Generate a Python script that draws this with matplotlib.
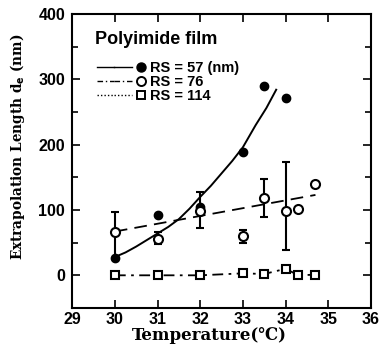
import matplotlib
matplotlib.use('Agg')
import matplotlib.pyplot as plt
from matplotlib.lines import Line2D
from matplotlib.legend_handler import HandlerTuple
import numpy as np

# RS = 57 (filled circles) and the fitted curve
t57 = [30, 31, 32, 33, 33.5, 34]
d57 = [27, 92, 104, 189, 290, 272]
curve_t = [30, 30.25, 30.5, 30.75, 31, 31.25, 31.5, 31.75, 32, 32.25, 32.5,
           32.75, 33, 33.3, 33.55, 33.78]
curve_d = [28, 35, 44, 54, 64, 74, 86, 102, 120, 137, 156, 175, 196, 230,
           256, 284]

# RS = 76 (open circles, error bars) and its dashed line
t76 = [30, 31, 32, 33, 33.5, 34, 34.3, 34.7]
d76 = [66, 56, 98, 60, 119, 99, 101, 139]
lo76 = [39, 8, 26, 10, 30, 61, 0, 0]
hi76 = [31, 10, 29, 10, 28, 74, 0, 0]
line76_t = [30, 34.7]
line76_d = [67, 123]

# RS = 114 (open squares)
t114 = [30, 31, 32, 33, 33.5, 34, 34.3, 34.7]
d114 = [0, 0, 0, 3, 2, 10, 0, 1]

plt.rcParams['font.family'] = ['DejaVu Serif', 'DejaVu Sans']

fig = plt.figure(figsize=(3.86, 3.48), dpi=100)
ax = fig.add_axes([0.187, 0.115, 0.774, 0.845])

ax.plot(curve_t, curve_d, '-', color='k', lw=1.4)
ax.plot(line76_t, line76_d, color='k', lw=1.3, dashes=(7, 4))
ax.plot(t114, d114, color='k', lw=1.3, dashes=(6, 3, 1.5, 3))

ax.errorbar(t76, d76, yerr=[lo76, hi76], fmt='none', ecolor='k',
            elinewidth=1.5, capsize=3, capthick=1.5)
ax.plot(t57, d57, 'o', color='k', ms=6)
ax.plot(t76, d76, 'o', mfc='white', mec='k', mew=1.5, ms=6.5)
ax.plot(t114, d114, 's', mfc='white', mec='k', mew=1.5, ms=5.5)

ax.set_xlim(29, 36)
ax.set_ylim(-50, 400)
ax.set_xticks(np.arange(29, 37, 1))
ax.set_yticks([0, 100, 200, 300, 400])
ax.set_yticks(np.arange(-50, 400, 100), minor=True)
ax.tick_params(which='both', direction='in', top=True, right=True,
               width=1.2, labelsize=11.5)
ax.tick_params(which='major', length=6)
ax.tick_params(axis='y', which='major', pad=5)
ax.tick_params(axis='x', which='major', pad=3)
ax.tick_params(which='minor', length=4)
for lab in ax.get_xticklabels() + ax.get_yticklabels():
    lab.set_fontweight('bold')
    lab.set_family('Liberation Sans')
for s in ax.spines.values():
    s.set_linewidth(1.5)

ax.set_xlabel('Temperature(\u2103)', fontsize=12, fontweight='bold')
ax.xaxis.set_label_coords(0.46, -0.065)
ax.set_ylabel('Extrapolation Length d$_\\mathbf{e}$ (nm)', fontsize=9.8,
              fontweight='bold')
ax.yaxis.set_label_coords(-0.15, 0.548)

ax.text(0.077, 0.912, 'Polyimide film', transform=ax.transAxes,
        family='Liberation Sans', weight='bold', fontsize=13, va='center')

line57 = Line2D([], [], color='k', lw=1)
line76 = Line2D([], [], color='k', lw=1, dashes=(4, 2, 1, 2))
line114 = Line2D([], [], color='k', lw=1, dashes=(1, 1.5))
h57 = (line57, line57, Line2D([], [], ls='', marker='o', color='k', ms=6.5))
h76 = (line76, line76, Line2D([], [], ls='', marker='o', mfc='white', mec='k', mew=1.4, ms=6.5))
h114 = (line114, line114, Line2D([], [], ls='', marker='s', mfc='white', mec='k', mew=1.4, ms=6))
leg = ax.legend([h57, h76, h114], ['RS = 57 (nm)', 'RS = 76', 'RS = 114'],
                handler_map={tuple: HandlerTuple(ndivide=None, pad=0)},
                loc='upper left', bbox_to_anchor=(0.083, 0.84),
                frameon=False, handlelength=3.6, handletextpad=0.05,
                labelspacing=0.0, borderaxespad=0, borderpad=0,
                prop={'family': 'Liberation Sans', 'weight': 'bold', 'size': 10.5})

fig.savefig('out.png', dpi=100)
